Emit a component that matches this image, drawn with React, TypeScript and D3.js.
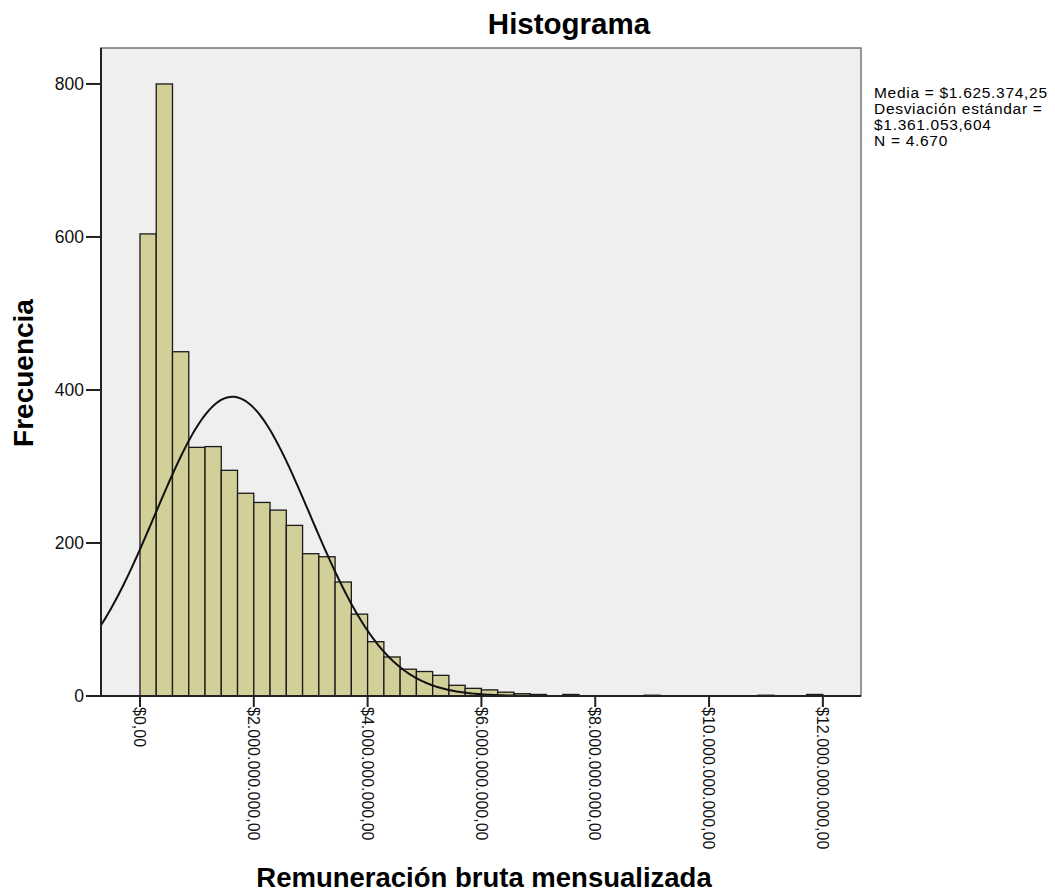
import React, { useEffect } from "react";
import * as d3 from "d3";

// ---- Data ----
const binWidth = 285714.2857;
const binCounts = [
  604, 800, 450, 325, 326, 295, 265, 253, 243, 223, 186, 182, 149, 107, 71, 51,
  35, 32, 27, 14, 10, 8, 5, 3, 2, 0, 2, 0, 0, 0, 0, 1, 0, 0, 0, 0, 0, 0, 1, 0, 0, 2,
];
const yTicks = [0, 200, 400, 600, 800];
const xTickValues = [0, 2000000, 4000000, 6000000, 8000000, 10000000, 12000000];
const xTickLabels = [
  "$0,00",
  "$2.000.000.000,00",
  "$4.000.000.000,00",
  "$6.000.000.000,00",
  "$8.000.000.000,00",
  "$10.000.000.000,00",
  "$12.000.000.000,00",
];
const statMean = 1625374.25;
const statSd = 1361053.604;
const statN = 4670;
const legendLines = [
  "Media = $1.625.374,25",
  "Desviación estándar =",
  "$1.361.053,604",
  "N = 4.670",
];
const titleText = "Histograma";
const xLabel = "Remuneración bruta mensualizada";
const yLabel = "Frecuencia";

const W = 1055;
const H = 894;
const plot = { left: 101, right: 861, top: 48, bottom: 696 };
const FONT = "'Liberation Sans', Arial, sans-serif";

export default function App() {
  useEffect(() => {
    document.body.style.margin = "0";
  }, []);

  const x = d3.scaleLinear().domain([-685000, 12670000]).range([plot.left, plot.right]);
  const y = d3.scaleLinear().domain([0, 847]).range([plot.bottom, plot.top]);

  const bars = binCounts
    .map((c, i) => ({ c, x0: i * binWidth, x1: (i + 1) * binWidth }))
    .filter((b) => b.c > 0);

  const scaleK = statN * binWidth;
  const [d0, d1] = x.domain();
  const pts: [number, number][] = d3.range(0, 401).map((k) => {
    const v = d0 + ((d1 - d0) * k) / 400;
    const z = (v - statMean) / statSd;
    const dens = (scaleK / (statSd * Math.sqrt(2 * Math.PI))) * Math.exp(-0.5 * z * z);
    return [v, dens];
  });
  const line = d3
    .line<[number, number]>()
    .x((d) => x(d[0]))
    .y((d) => y(d[1]))
    .curve(d3.curveLinear);

  return (
    <svg width={W} height={H} style={{ display: "block", background: "#fff" }} fontFamily={FONT}>
      <defs>
        <clipPath id="plotclip">
          <rect x={plot.left} y={plot.top} width={plot.right - plot.left} height={plot.bottom - plot.top} />
        </clipPath>
      </defs>
      {/* plot background */}
      <rect
        x={plot.left}
        y={plot.top}
        width={plot.right - plot.left}
        height={plot.bottom - plot.top}
        fill="#efefef"
        stroke="#777"
        strokeWidth={1.5}
      />
      {/* bars */}
      <g clipPath="url(#plotclip)">
        {bars.map((b, i) => (
          <rect
            key={i}
            x={x(b.x0)}
            y={y(b.c)}
            width={x(b.x1) - x(b.x0)}
            height={y(0) - y(b.c)}
            fill="#d3cf98"
            stroke="#1a1a1a"
            strokeWidth={1.3}
          />
        ))}
        <path d={line(pts) || ""} fill="none" stroke="#111" strokeWidth={2} />
      </g>
      {/* axes lines */}
      <line x1={plot.left} x2={plot.left} y1={plot.top} y2={plot.bottom} stroke="#222" strokeWidth={2} />
      <line x1={plot.left} x2={plot.right} y1={plot.bottom} y2={plot.bottom} stroke="#222" strokeWidth={2} />
      {/* y ticks */}
      {yTicks.map((t) => (
        <g key={t}>
          <line x1={plot.left - 15} x2={plot.left} y1={y(t)} y2={y(t)} stroke="#222" strokeWidth={2} />
          <text x={plot.left - 17} y={y(t)} dy="0.36em" textAnchor="end" fontSize={17.5} fill="#111">
            {t}
          </text>
        </g>
      ))}
      {/* x ticks */}
      {xTickValues.map((t, i) => (
        <g key={t}>
          <line x1={x(t)} x2={x(t)} y1={plot.bottom} y2={plot.bottom + 11} stroke="#222" strokeWidth={2} />
          <text
            transform={`translate(${x(t)},${plot.bottom + 11}) rotate(90)`}
            dy="0.36em"
            textAnchor="start"
            fontSize={16}
            fill="#111"
          >
            {xTickLabels[i]}
          </text>
        </g>
      ))}
      {/* title */}
      <text x={569} y={34} textAnchor="middle" fontSize={29.5} fontWeight="bold" fill="#000">
        {titleText}
      </text>
      {/* axis labels */}
      <text x={(plot.left + plot.right) / 2 + 3} y={887} textAnchor="middle" fontSize={27.5} fontWeight="bold" fill="#000">
        {xLabel}
      </text>
      <text
        transform={`translate(33,${(plot.top + plot.bottom) / 2 + 1}) rotate(-90)`}
        textAnchor="middle"
        fontSize={28}
        fontWeight="bold"
        fill="#000"
      >
        {yLabel}
      </text>
      {/* legend stats */}
      {legendLines.map((l, i) => (
        <text key={i} x={874} y={98 + i * 16} fontSize={15.5} letterSpacing={0.7} fill="#000">
          {l}
        </text>
      ))}
    </svg>
  );
}
